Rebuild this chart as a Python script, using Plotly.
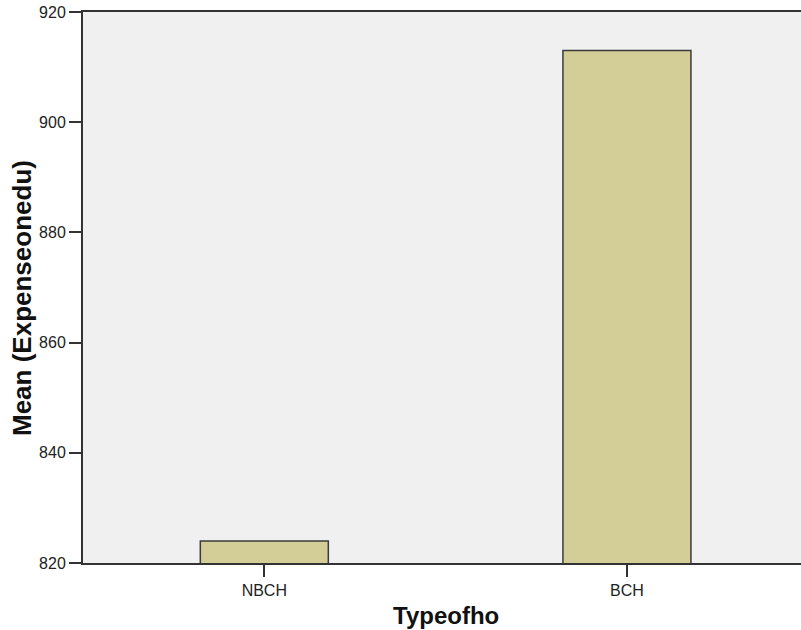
import plotly.graph_objects as go

categories = ["NBCH", "BCH"]
means = [824, 913]
y_ticks = [820, 840, 860, 880, 900, 920]
x_title = "Typeofho"
y_title = "Mean (Expenseonedu)"

W, H = 801, 630
L, T, R = 83, 12, 0
PLOT_H = 551
B = H - T - PLOT_H
PLOT_W = W - L - R

fig = go.Figure()
fig.add_trace(go.Bar(
    x=categories,
    y=means,
    width=0.353,
    marker=dict(color="#D3CE98", line=dict(color="#3a3a3a", width=1.5)),
))

fig.update_layout(
    width=W, height=H,
    margin=dict(l=L, r=R, t=T, b=B, autoexpand=False),
    paper_bgcolor="white",
    plot_bgcolor="#F0F0F0",
    showlegend=False,
    font=dict(family="Arial, Liberation Sans, sans-serif", color="#222222"),
)
fig.update_xaxes(
    range=[-0.5, 1.48], automargin=False,
    showline=True, linecolor="#333333", linewidth=2, mirror=True,
    ticks="outside", ticklen=12, tickwidth=1.5, tickcolor="#333333",
    tickfont=dict(size=16, color="#222222"),
    showgrid=False,
)
fig.update_yaxes(
    range=[820, 920], automargin=False,
    tickvals=y_ticks,
    ticklabeloverflow="allow",
    showline=True, linecolor="#333333", linewidth=2,
    ticks="outside", ticklen=12, tickwidth=1.5, tickcolor="#333333",
    tickfont=dict(size=16, color="#222222"),
    showgrid=False, zeroline=False,
)
fig.add_annotation(
    text="<b>%s</b>" % x_title, xref="paper", yref="paper",
    x=(446 - L) / PLOT_W, y=-(615 - (T + PLOT_H)) / PLOT_H,
    xanchor="center", yanchor="middle",
    showarrow=False, font=dict(size=24, color="#111111"),
)
fig.add_annotation(
    text="<b>%s</b>" % y_title, xref="paper", yref="paper",
    x=-(L - 22) / PLOT_W, y=((T + PLOT_H) - 298) / PLOT_H,
    xanchor="center", yanchor="middle",
    textangle=-90, showarrow=False, font=dict(size=26, color="#111111"),
)
# remove the browser's default 8px body margin so the figure sits at the page origin
fig.write_html(
    "out.html",
    config={"displayModeBar": False},
    post_script="document.body.style.margin='0';",
)
